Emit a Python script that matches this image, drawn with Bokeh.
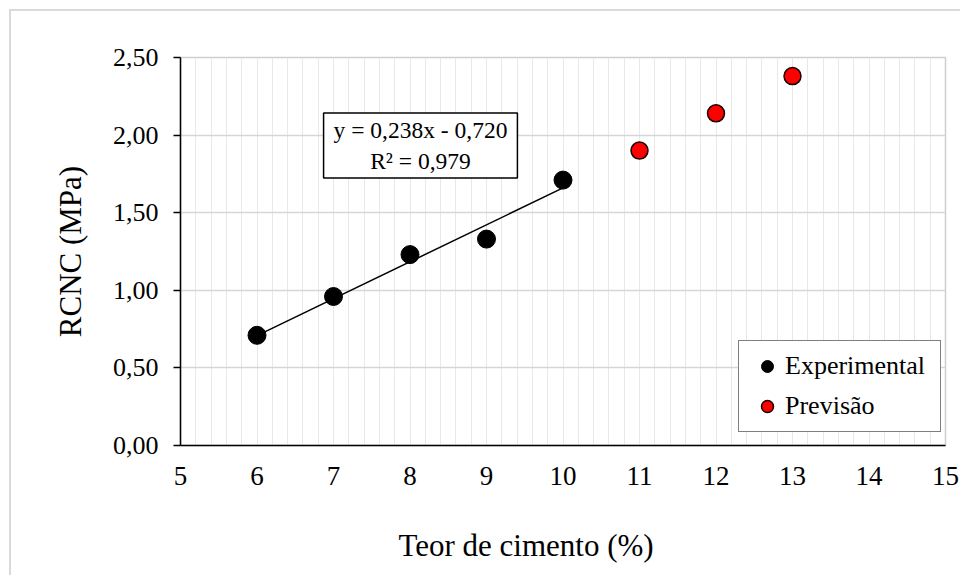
from bokeh.plotting import figure
from bokeh.models import (ColumnDataSource, FixedTicker, CustomJSTickFormatter,
                          Legend, LegendItem, Label, Range1d, Title)
from bokeh.embed import file_html
from bokeh.resources import INLINE

# ---- data ----
exp_x = [6, 7, 8, 9, 10]
exp_y = [0.71, 0.96, 1.23, 1.33, 1.71]
prev_x = [11, 12, 13]
prev_y = [1.90, 2.14, 2.38]
trend_slope = 0.238
trend_intercept = -0.720
trend_r2 = 0.979
x_ticks = [5, 6, 7, 8, 9, 10, 11, 12, 13, 14, 15]
y_ticks = [0.0, 0.5, 1.0, 1.5, 2.0, 2.5]
x_label = "Teor de cimento (%)"
y_label = "RCNC (MPa)"
series_names = ["Experimental", "Previsão"]

FONT = "Liberation Serif"

p = figure(width=960, height=575, output_backend="svg", toolbar_location=None,
           x_range=Range1d(5, 15), y_range=Range1d(0, 2.5),
           min_border_left=180, min_border_right=15, min_border_top=57,
           min_border_bottom=130)
p.border_fill_color = None
p.background_fill_color = "white"
p.outline_line_color = "#cfcfcf"
p.outline_line_width = 1.5
p.styles = {"box-shadow": "inset 9px 9px 0 0 #ffffff, inset 11px 11px 0 0 #dadada"}

# grids
p.xgrid.ticker = FixedTicker(ticks=[5 + 0.2 * i for i in range(51)])
p.xgrid.grid_line_color = "#e8e8e8"
p.xgrid.grid_line_width = 1
p.ygrid.ticker = FixedTicker(ticks=y_ticks)
p.ygrid.grid_line_color = "#d6d6d6"
p.ygrid.grid_line_width = 1.5

# axes
p.xaxis.ticker = FixedTicker(ticks=x_ticks)
p.yaxis.ticker = FixedTicker(ticks=y_ticks)
p.yaxis.formatter = CustomJSTickFormatter(code="return tick.toFixed(2).replace('.', ',');")
for ax in (p.xaxis[0], p.yaxis[0]):
    ax.axis_line_color = "black"
    ax.axis_line_width = 1.5
    ax.major_tick_line_color = "black"
    ax.major_tick_line_width = 1.5
    ax.minor_tick_line_color = None
    ax.major_tick_in = 0
    ax.major_label_text_font = FONT
    ax.major_label_text_color = "black"
p.xaxis.major_tick_out = 0
p.yaxis.major_tick_out = 7
p.xaxis.major_label_text_font_size = "27px"
p.yaxis.major_label_text_font_size = "26px"
p.xaxis.major_label_standoff = 21
p.yaxis.major_label_standoff = 15
p.yaxis.axis_label = y_label
p.yaxis.axis_label_text_font = FONT
p.yaxis.axis_label_text_font_size = "31px"
p.yaxis.axis_label_text_font_style = "normal"
p.yaxis.axis_label_text_color = "black"
p.yaxis.axis_label_standoff = 22

# x axis title (placed as in the reference, left of centre)
xt = Title(text=x_label, align="left", offset=218, standoff=0,
           padding=dict(top=38, bottom=0, left=0, right=0),
           text_line_height=0.75,
           text_font=FONT, text_font_size="31px", text_font_style="normal",
           text_color="black")
p.add_layout(xt, "below")

# trend line
tx = [exp_x[0], exp_x[-1]]
ty = [trend_slope * v + trend_intercept for v in tx]
p.line(tx, ty, line_color="black", line_width=1.5)

src_exp = ColumnDataSource(dict(x=exp_x, y=exp_y))
src_prev = ColumnDataSource(dict(x=prev_x, y=prev_y))
r_exp = p.scatter("x", "y", source=src_exp, size=18, fill_color="black",
                  line_color="black", line_width=1)
r_prev = p.scatter("x", "y", source=src_prev, size=17, fill_color="#ff0000",
                   line_color="#1a0000", line_width=1.5)

# equation box
eq_text = "y = " + f"{trend_slope:.3f}".replace(".", ",") + "x - " + \
          f"{-trend_intercept:.3f}".replace(".", ",") + "\n" + \
          "R² = " + f"{trend_r2:.3f}".replace(".", ",")
eq = Label(x=240, y=300, x_units="screen", y_units="screen", text=eq_text,
           text_font=FONT, text_font_size="23.5px", text_align="center",
           text_baseline="middle", text_color="black",
           border_line_color="black", border_line_width=1.5,
           background_fill_color="white",
           padding=dict(left=10, right=10, top=4, bottom=4))
p.add_layout(eq)

legend = Legend(items=[LegendItem(label=series_names[0], renderers=[r_exp]),
                       LegendItem(label=series_names[1], renderers=[r_prev])],
                location=(558, 13), margin=0, padding=10, spacing=10,
                glyph_width=36, glyph_height=30, label_height=30,
                label_width=145, label_standoff=0,
                label_text_font=FONT, label_text_font_size="26px",
                label_text_color="black",
                border_line_color="black", border_line_width=1.5,
                background_fill_color="white", background_fill_alpha=1)
p.add_layout(legend)

open("out.html", "w").write(file_html(p, INLINE))
